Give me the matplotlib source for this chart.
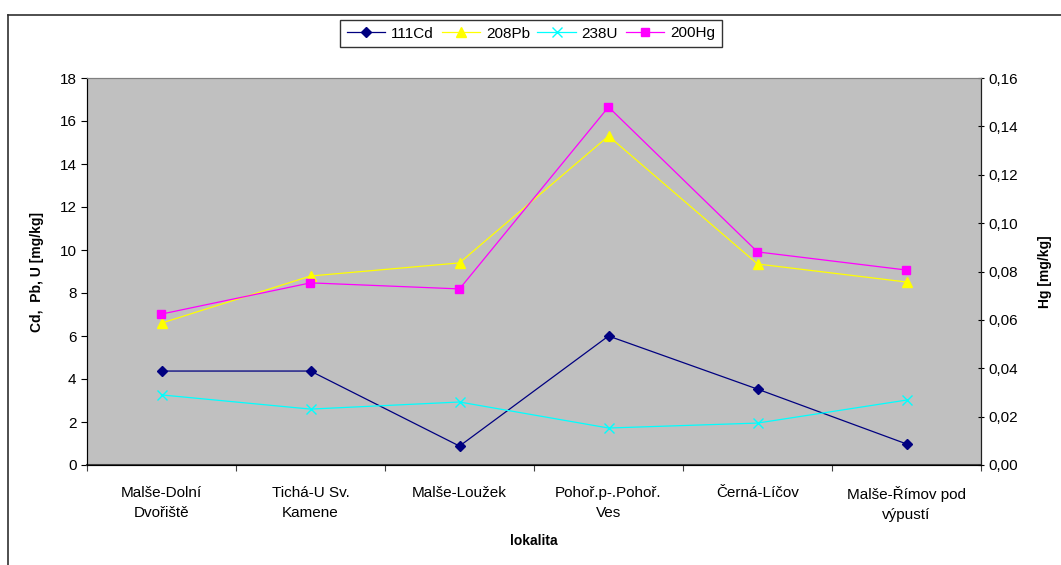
import numpy as np
import matplotlib
matplotlib.use('Agg')
from matplotlib import pyplot as plt
from matplotlib.lines import Line2D
from matplotlib.ticker import FuncFormatter

plt.rcParams['font.family'] = ['Liberation Sans', 'DejaVu Sans']

lokality = ['Malše-Dolní\nDvořiště', 'Tichá-U Sv.\nKamene', 'Malše-Loužek',
            'Pohoř.p-.Pohoř.\nVes', 'Černá-Líčov', 'Malše-Římov pod\nvýpustí']
cd = [4.37, 4.37, 0.88, 6.0, 3.53, 0.98]
pb = [6.6, 8.79, 9.4, 15.3, 9.35, 8.51]
u = [3.26, 2.60, 2.93, 1.72, 1.95, 3.02]
hg = [0.0624, 0.0753, 0.0728, 0.148, 0.0881, 0.0806]

fig = plt.figure(figsize=(10.61, 5.65), dpi=100)
ax = fig.add_axes([87/1061, 1 - 465/565, (981-87)/1061, (465-78)/565])
ax2 = ax.twinx()

x = np.arange(len(lokality)) + 0.5
lw = 0.9
ax.plot(x, cd, color='#000080', marker='D', ms=5.5, lw=lw, label='111Cd')
ax.plot(x, pb, color='#FFFF00', marker='^', ms=7, lw=lw, label='208Pb')
ax.plot(x, u, color='#00FFFF', marker='x', ms=7, mew=1, lw=lw, label='238U')
ax2.plot(x, hg, color='#FF00FF', marker='s', ms=5.5, lw=lw, label='200Hg')

ax.set_facecolor('#C0C0C0')
ax.set_xlim(0, 6)
ax.set_ylim(0, 18)
ax.set_yticks(np.arange(0, 19, 2))
ax2.set_ylim(0, 0.16)
ax2.set_yticks(np.arange(0, 0.161, 0.02))
ax2.yaxis.set_major_formatter(FuncFormatter(lambda v, p: ('%.2f' % v).replace('.', ',')))

# ticks between categories, labels in the middle
ax.set_xticks(np.arange(0, 7))
ax.set_xticklabels([])
ax.set_xticks(x, minor=True)
ax.set_xticklabels(lokality, minor=True, fontsize=11, linespacing=1.55)
ax.tick_params(axis='x', which='minor', length=0, pad=15)
ax.tick_params(axis='x', which='major', length=4, direction='out', color='#404040')
ax.tick_params(axis='y', labelsize=11, length=4, direction='out')
ax2.tick_params(axis='y', labelsize=11, length=4, direction='inout')

for s in ['top']:
    ax.spines[s].set_color('#808080')
    ax2.spines[s].set_color('#808080')
ax.spines['bottom'].set_color('#404040')
ax.spines['bottom'].set_linewidth(1.5)
ax.spines['left'].set_color('#404040')
ax2.spines['right'].set_color('#202020')

ax.set_ylabel('Cd,  Pb, U [mg/kg]', fontsize=10, fontweight='bold', labelpad=11)
ax2.set_ylabel('Hg [mg/kg]', fontsize=10, fontweight='bold', labelpad=14)
ax.set_xlabel('lokalita', fontsize=10, fontweight='bold', labelpad=9)

h1, l1 = ax.get_legend_handles_labels()
h2, l2 = ax2.get_legend_handles_labels()
leg = fig.legend(h1 + h2, l1 + l2, loc='center', bbox_to_anchor=(531/1061, 1 - 33.5/565),
                 ncol=4, fontsize=11, frameon=True, fancybox=False, edgecolor='black',
                 handlelength=2.5, handletextpad=0.4, columnspacing=0.5, borderpad=0.45)
leg.get_frame().set_linewidth(1.0)

# outer chart frame (top and left edges visible)
fig.add_artist(Line2D([8/1061, 1], [1 - 15/565, 1 - 15/565], color='#303030', lw=1.2))
fig.add_artist(Line2D([8/1061, 8/1061], [0, 1 - 15/565], color='#303030', lw=1.2))

fig.savefig('out.png', dpi=100)
